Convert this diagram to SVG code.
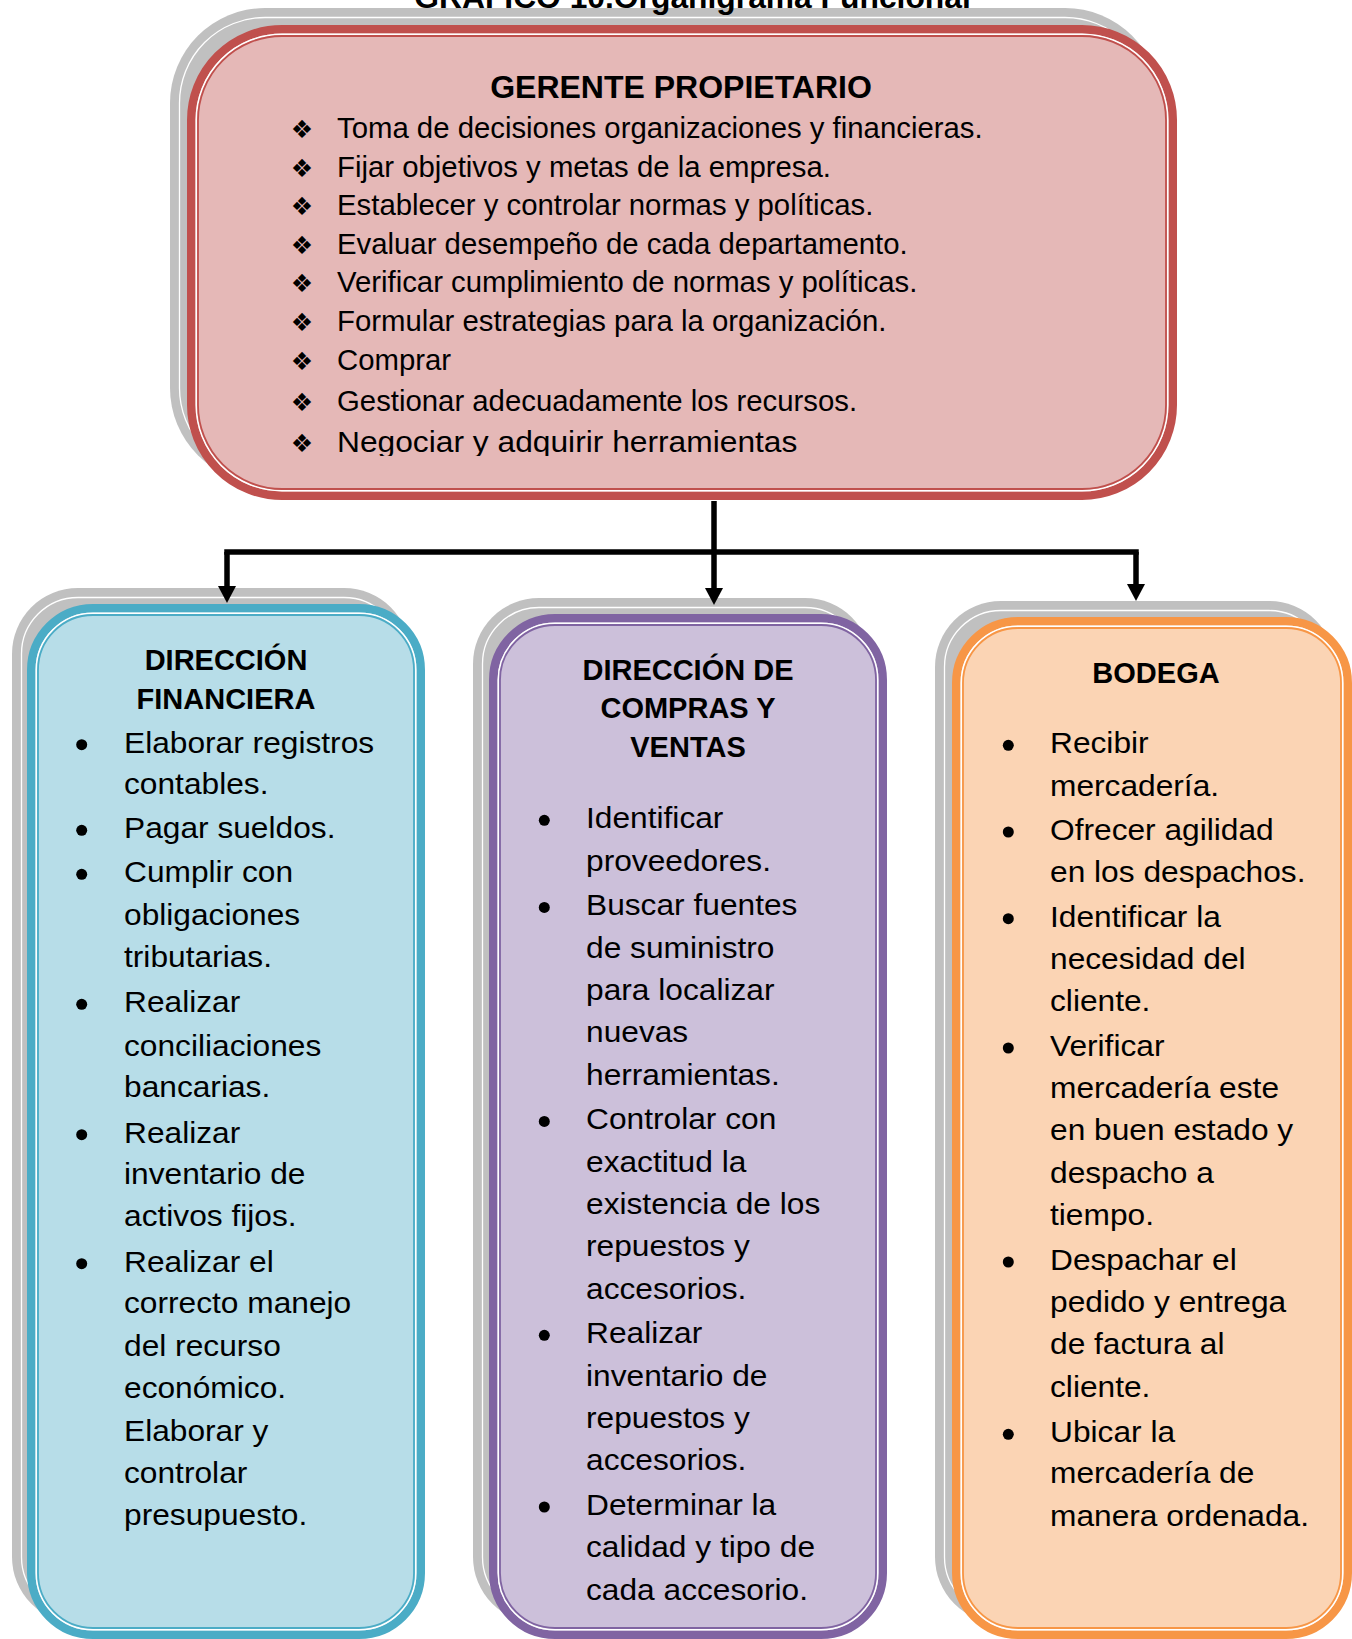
<svg xmlns="http://www.w3.org/2000/svg" width="1352" height="1639" viewBox="0 0 1352 1639">
  <defs>
    <marker id="arrow" markerUnits="userSpaceOnUse" markerWidth="18" markerHeight="18" refX="0" refY="9" orient="auto" overflow="visible">
      <path d="M0,0 L17,9 L0,18 Z" fill="#000"/>
    </marker>
    <clipPath id="topClip">
      <rect x="190" y="40" width="980" height="416"/>
    </clipPath>
  </defs>
  <style>
    .shadow { fill: #C0C0C0; }
    .shadowLine { fill: none; stroke: #FFFFFF; stroke-width: 1.3; }
    .gap { fill: none; stroke: #FFFFFF; stroke-width: 1.5; }
    .red { fill: #E5B8B7; stroke: #C0504D; stroke-width: 8.5; }
    .redThin { fill: none; stroke: #C0504D; stroke-width: 1.8; }
    .blue { fill: #B7DDE8; stroke: #4BACC6; stroke-width: 8.5; }
    .blueThin { fill: none; stroke: #4BACC6; stroke-width: 1.8; }
    .purple { fill: #CCC0DA; stroke: #8064A2; stroke-width: 8.5; }
    .purpleThin { fill: none; stroke: #8064A2; stroke-width: 1.8; }
    .orange { fill: #FBD4B4; stroke: #F79646; stroke-width: 8.5; }
    .orangeThin { fill: none; stroke: #F79646; stroke-width: 1.8; }
    .title { font-family: "Liberation Sans", Arial, sans-serif; font-weight: bold; fill: #000; text-anchor: middle; }
    .body { font-family: "Liberation Sans", Arial, sans-serif; fill: #000; }
    .topBody { font-size: 29px; }
    .lowBody { font-size: 29.5px; }
    .dingbat { font-family: "DejaVu Sans", sans-serif; font-size: 25px; fill: #000; text-anchor: middle; }
    .dot { fill: #000; }
    .conn { fill: none; stroke: #000; stroke-width: 5.5; }
  </style>

  <rect width="1352" height="1639" fill="#FFFFFF"/>

  <!-- Gerente propietario -->
  <g id="gerente">
    <rect class="shadow" x="170" y="8" width="990" height="475" rx="95"/>
    <rect class="shadowLine" x="179.5" y="17.5" width="971" height="456" rx="85.5"/>
    <rect class="red" x="191.25" y="29.25" width="981.5" height="466.5" rx="90.75"/>
    <rect class="gap" x="196.25" y="34.25" width="971.5" height="456.5" rx="85.75"/>
    <rect class="redThin" x="198" y="36" width="968" height="453" rx="84"/>
    <text class="title" x="681" y="98" font-size="32">GERENTE PROPIETARIO</text>
    <g clip-path="url(#topClip)">
      <g class="dingbat">
        <text x="302" y="137.7">❖</text>
        <text x="302" y="176.7">❖</text>
        <text x="302" y="215">❖</text>
        <text x="302" y="254">❖</text>
        <text x="302" y="292.3">❖</text>
        <text x="302" y="331">❖</text>
        <text x="302" y="370">❖</text>
        <text x="302" y="411">❖</text>
        <text x="302" y="451.7">❖</text>
      </g>
      <g transform="translate(337 0) scale(1.012 1)">
        <text class="body topBody">
          <tspan x="0" y="137.7">Toma de decisiones organizaciones y financieras.</tspan>
          <tspan x="0" y="176.7">Fijar objetivos y metas de la empresa.</tspan>
          <tspan x="0" y="215">Establecer y controlar normas y políticas.</tspan>
          <tspan x="0" y="254">Evaluar desempeño de cada departamento.</tspan>
          <tspan x="0" y="292.3">Verificar cumplimiento de normas y políticas.</tspan>
          <tspan x="0" y="331">Formular estrategias para la organización.</tspan>
          <tspan x="0" y="370">Comprar</tspan>
          <tspan x="0" y="411">Gestionar adecuadamente los recursos.</tspan>
        </text>
      </g>
      <g transform="translate(337 0) scale(1.095 1)">
        <text class="body topBody" x="0" y="451.7">Negociar y adquirir herramientas</text>
      </g>
    </g>
  </g>

  <!-- Heading above the chart -->
  <text class="title" x="692.5" y="8" font-size="31.8">GRAFICO 10.Organigrama Funcional</text>

  <!-- Dirección financiera -->
  <g id="financiera">
    <rect class="shadow" x="12" y="588" width="398" height="1035" rx="66"/>
    <rect class="shadowLine" x="21.5" y="597.5" width="379" height="1016" rx="56.5"/>
    <rect class="blue" x="31.25" y="608.25" width="389.5" height="1026.5" rx="61.75"/>
    <rect class="gap" x="36.25" y="613.25" width="379.5" height="1016.5" rx="56.75"/>
    <rect class="blueThin" x="38" y="615" width="376" height="1013" rx="55"/>
    <text class="title" x="226" y="670" font-size="29">DIRECCIÓN</text>
    <text class="title" x="226" y="709" font-size="29">FINANCIERA</text>
    <g class="dot">
      <circle cx="81.7" cy="744.7" r="5.5"/>
      <circle cx="81.7" cy="830.3" r="5.5"/>
      <circle cx="81.7" cy="874.3" r="5.5"/>
      <circle cx="81.7" cy="1004.3" r="5.5"/>
      <circle cx="81.7" cy="1134.7" r="5.5"/>
      <circle cx="81.7" cy="1263.7" r="5.5"/>
    </g>
    <g transform="translate(124 0) scale(1.075 1)">
      <text class="body lowBody">
        <tspan x="0" y="752.7">Elaborar registros</tspan>
        <tspan x="0" y="794.3">contables.</tspan>
        <tspan x="0" y="838.3">Pagar sueldos.</tspan>
        <tspan x="0" y="882.3">Cumplir con</tspan>
        <tspan x="0" y="925">obligaciones</tspan>
        <tspan x="0" y="967.3">tributarias.</tspan>
        <tspan x="0" y="1012.3">Realizar</tspan>
        <tspan x="0" y="1055.7">conciliaciones</tspan>
        <tspan x="0" y="1097.3">bancarias.</tspan>
        <tspan x="0" y="1142.7">Realizar</tspan>
        <tspan x="0" y="1184.3">inventario de</tspan>
        <tspan x="0" y="1226">activos fijos.</tspan>
        <tspan x="0" y="1271.7">Realizar el</tspan>
        <tspan x="0" y="1313.3">correcto manejo</tspan>
        <tspan x="0" y="1356">del recurso</tspan>
        <tspan x="0" y="1398.3">económico.</tspan>
        <tspan x="0" y="1441">Elaborar y</tspan>
        <tspan x="0" y="1483.3">controlar</tspan>
        <tspan x="0" y="1525">presupuesto.</tspan>
      </text>
    </g>
  </g>

  <!-- Dirección de compras y ventas -->
  <g id="compras-ventas">
    <rect class="shadow" x="473" y="598" width="398" height="1025" rx="66"/>
    <rect class="shadowLine" x="482.5" y="607.5" width="379" height="1006" rx="56.5"/>
    <rect class="purple" x="493.25" y="618.25" width="389.5" height="1016.5" rx="61.75"/>
    <rect class="gap" x="498.25" y="623.25" width="379.5" height="1006.5" rx="56.75"/>
    <rect class="purpleThin" x="500" y="625" width="376" height="1003" rx="55"/>
    <text class="title" x="688" y="680" font-size="29">DIRECCIÓN DE</text>
    <text class="title" x="688" y="718.3" font-size="29">COMPRAS Y</text>
    <text class="title" x="688" y="756.7" font-size="29">VENTAS</text>
    <g class="dot">
      <circle cx="544.3" cy="820.3" r="5.5"/>
      <circle cx="544.3" cy="907.4" r="5.5"/>
      <circle cx="544.3" cy="1121.4" r="5.5"/>
      <circle cx="544.3" cy="1335.3" r="5.5"/>
      <circle cx="544.3" cy="1507" r="5.5"/>
    </g>
    <g transform="translate(586 0) scale(1.075 1)">
      <text class="body lowBody">
        <tspan x="0" y="828.3">Identificar</tspan>
        <tspan x="0" y="870.6">proveedores.</tspan>
        <tspan x="0" y="915.4">Buscar fuentes</tspan>
        <tspan x="0" y="957.7">de suministro</tspan>
        <tspan x="0" y="1000">para localizar</tspan>
        <tspan x="0" y="1042.3">nuevas</tspan>
        <tspan x="0" y="1084.6">herramientas.</tspan>
        <tspan x="0" y="1129.4">Controlar con</tspan>
        <tspan x="0" y="1171.7">exactitud la</tspan>
        <tspan x="0" y="1214">existencia de los</tspan>
        <tspan x="0" y="1256.3">repuestos y</tspan>
        <tspan x="0" y="1298.6">accesorios.</tspan>
        <tspan x="0" y="1343.3">Realizar</tspan>
        <tspan x="0" y="1385.6">inventario de</tspan>
        <tspan x="0" y="1427.9">repuestos y</tspan>
        <tspan x="0" y="1470.2">accesorios.</tspan>
        <tspan x="0" y="1515">Determinar la</tspan>
        <tspan x="0" y="1557.3">calidad y tipo de</tspan>
        <tspan x="0" y="1599.6">cada accesorio.</tspan>
      </text>
    </g>
  </g>

  <!-- Bodega -->
  <g id="bodega">
    <rect class="shadow" x="935" y="601" width="400" height="1022" rx="66"/>
    <rect class="shadowLine" x="944.5" y="610.5" width="381" height="1003" rx="56.5"/>
    <rect class="orange" x="956.25" y="621.25" width="391.5" height="1013.5" rx="61.75"/>
    <rect class="gap" x="961.25" y="626.25" width="381.5" height="1003.5" rx="56.75"/>
    <rect class="orangeThin" x="963" y="628" width="378" height="1000" rx="55"/>
    <text class="title" x="1156" y="683.3" font-size="29">BODEGA</text>
    <g class="dot">
      <circle cx="1008.3" cy="745.3" r="5.5"/>
      <circle cx="1008.3" cy="832" r="5.5"/>
      <circle cx="1008.3" cy="918.7" r="5.5"/>
      <circle cx="1008.3" cy="1048" r="5.5"/>
      <circle cx="1008.3" cy="1262" r="5.5"/>
      <circle cx="1008.3" cy="1434.3" r="5.5"/>
    </g>
    <g transform="translate(1050 0) scale(1.075 1)">
      <text class="body lowBody">
        <tspan x="0" y="753.3">Recibir</tspan>
        <tspan x="0" y="796">mercadería.</tspan>
        <tspan x="0" y="840">Ofrecer agilidad</tspan>
        <tspan x="0" y="881.7">en los despachos.</tspan>
        <tspan x="0" y="926.7">Identificar la</tspan>
        <tspan x="0" y="969">necesidad del</tspan>
        <tspan x="0" y="1011">cliente.</tspan>
        <tspan x="0" y="1056">Verificar</tspan>
        <tspan x="0" y="1097.7">mercadería este</tspan>
        <tspan x="0" y="1140">en buen estado y</tspan>
        <tspan x="0" y="1183.3">despacho a</tspan>
        <tspan x="0" y="1225">tiempo.</tspan>
        <tspan x="0" y="1270">Despachar el</tspan>
        <tspan x="0" y="1312.3">pedido y entrega</tspan>
        <tspan x="0" y="1354">de factura al</tspan>
        <tspan x="0" y="1396.7">cliente.</tspan>
        <tspan x="0" y="1442.3">Ubicar la</tspan>
        <tspan x="0" y="1483.3">mercadería de</tspan>
        <tspan x="0" y="1526">manera ordenada.</tspan>
      </text>
    </g>
  </g>

  <!-- Connectors -->
  <g id="connectors">
    <path class="conn" d="M224.25 552 H1138.75"/>
    <path class="conn" d="M714 501 V588" marker-end="url(#arrow)"/>
    <path class="conn" d="M227 552 V586" marker-end="url(#arrow)"/>
    <path class="conn" d="M1136 552 V584" marker-end="url(#arrow)"/>
  </g>
</svg>
